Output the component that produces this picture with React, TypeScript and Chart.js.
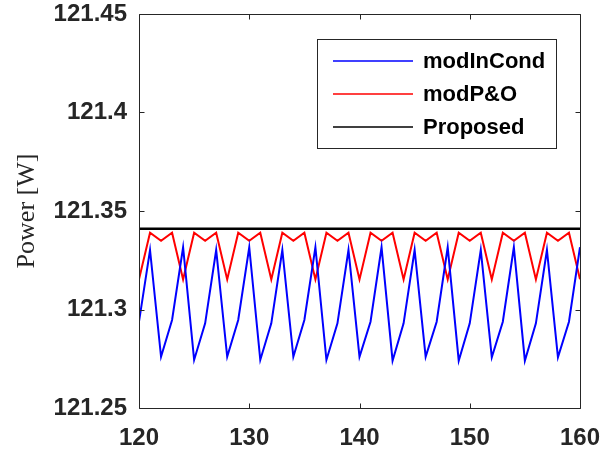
import React, { useEffect, useRef } from 'react';
import { Chart, registerables } from 'chart.js';

Chart.register(...registerables);

// ---- data ----
const timeX = [
  120, 121, 122, 123, 124, 125, 126, 127, 128, 129,
  130, 131, 132, 133, 134, 135, 136, 137, 138, 139,
  140, 141, 142, 143, 144, 145, 146, 147, 148, 149,
  150, 151, 152, 153, 154, 155, 156, 157, 158, 159,
  160,
];

const modInCond = [
  121.2938, 121.3302, 121.2760, 121.2947, 121.3316, 121.2744, 121.2930, 121.3302, 121.2760, 121.2947,
  121.3316, 121.2744, 121.2930, 121.3302, 121.2760, 121.2947, 121.3316, 121.2744, 121.2930, 121.3302,
  121.2760, 121.2938, 121.3316, 121.2740, 121.2930, 121.3302, 121.2760, 121.2938, 121.3316, 121.2740,
  121.2930, 121.3302, 121.2757, 121.2938, 121.3316, 121.2740, 121.2930, 121.3302, 121.2757, 121.2938,
  121.3316,
];

const modPO = [
  121.3153, 121.3390, 121.3349, 121.3390, 121.3153, 121.3390, 121.3349, 121.3390, 121.3153, 121.3390,
  121.3349, 121.3390, 121.3153, 121.3390, 121.3349, 121.3390, 121.3153, 121.3390, 121.3349, 121.3390,
  121.3153, 121.3390, 121.3349, 121.3390, 121.3153, 121.3390, 121.3349, 121.3390, 121.3153, 121.3390,
  121.3349, 121.3390, 121.3153, 121.3390, 121.3349, 121.3390, 121.3153, 121.3390, 121.3349, 121.3390,
  121.3153,
];

const proposedX = [120, 160];
const proposed = [121.341, 121.341];

const seriesLabels = ['modInCond', 'modP&O', 'Proposed'];
const seriesColors = ['#0000FF', '#FF0000', '#000000'];

const xTicks = [120, 130, 140, 150, 160];
const xTickLabels = ['120', '130', '140', '150', '160'];
const yTicks = [121.25, 121.3, 121.35, 121.4, 121.45];
const yTickLabels = ['121.25', '121.3', '121.35', '121.4', '121.45'];
const yTitle = 'Power [W]';

const AXIS_COLOR = '#262626';
const TICK_FONT = { family: 'Liberation Sans', size: 24, weight: 'bold' as const };

const boxPlugin = {
  id: 'matlabBox',
  afterDatasetsDraw(chart: any) {
    const { ctx, chartArea: a, scales } = chart;
    ctx.save();
    ctx.strokeStyle = AXIS_COLOR;
    ctx.lineWidth = 1;
    const L = Math.round(a.left) + 0.5;
    const R = Math.round(a.right) + 0.5;
    const T = Math.round(a.top) + 0.5;
    const B = Math.round(a.bottom) + 0.5;
    ctx.beginPath();
    ctx.rect(L, T, R - L, B - T);
    const tl = 5;
    xTicks.forEach((v) => {
      const px = Math.round(scales.x.getPixelForValue(v)) + 0.5;
      ctx.moveTo(px, B);
      ctx.lineTo(px, B - tl);
      ctx.moveTo(px, T);
      ctx.lineTo(px, T + tl);
    });
    yTicks.forEach((v) => {
      const py = Math.round(scales.y.getPixelForValue(v)) + 0.5;
      ctx.moveTo(L, py);
      ctx.lineTo(L + tl, py);
      ctx.moveTo(R, py);
      ctx.lineTo(R - tl, py);
    });
    ctx.stroke();
    ctx.restore();
  },
  afterDraw(chart: any) {
    const { ctx } = chart;
    const bx = 317.5, by = 39.5, bw = 239, bh = 109;
    ctx.save();
    ctx.fillStyle = '#FFFFFF';
    ctx.fillRect(bx, by, bw, bh);
    ctx.strokeStyle = AXIS_COLOR;
    ctx.lineWidth = 1;
    ctx.strokeRect(bx, by, bw, bh);
    const rows = [61, 94, 127];
    chart.data.datasets.forEach((ds: any, i: number) => {
      const y = rows[i];
      ctx.strokeStyle = ds.borderColor;
      ctx.lineWidth = 1.5;
      ctx.beginPath();
      ctx.moveTo(333, y);
      ctx.lineTo(413, y);
      ctx.stroke();
      ctx.fillStyle = '#000000';
      ctx.font = 'bold 22px "Liberation Sans"';
      ctx.textBaseline = 'middle';
      ctx.textAlign = 'left';
      ctx.fillText(ds.label, 423, y + 1);
    });
    ctx.restore();
  },
};

export default function App() {
  const ref = useRef<HTMLCanvasElement | null>(null);

  useEffect(() => {
    document.body.style.margin = '0';
    const canvas = ref.current;
    if (!canvas) return;
    const chart = new Chart(canvas, {
      type: 'line',
      data: {
        datasets: [
          {
            label: seriesLabels[0],
            data: timeX.map((x, i) => ({ x, y: modInCond[i] })),
            borderColor: seriesColors[0],
            borderWidth: 2,
            pointRadius: 0,
            tension: 0,
          },
          {
            label: seriesLabels[1],
            data: timeX.map((x, i) => ({ x, y: modPO[i] })),
            borderColor: seriesColors[1],
            borderWidth: 2,
            pointRadius: 0,
            tension: 0,
          },
          {
            label: seriesLabels[2],
            data: proposedX.map((x, i) => ({ x, y: proposed[i] })),
            borderColor: seriesColors[2],
            borderWidth: 2.5,
            pointRadius: 0,
            tension: 0,
          },
        ],
      },
      options: {
        animation: false,
        responsive: false,
        maintainAspectRatio: false,
        layout: { padding: { left: 0, top: 14, right: 32, bottom: 0 } },
        plugins: {
          legend: { display: false },
          tooltip: { enabled: false },
        },
        scales: {
          x: {
            type: 'linear',
            min: 120,
            max: 160,
            grid: { display: false, drawTicks: false },
            border: { display: false },
            afterBuildTicks: (s: any) => {
              s.ticks = xTicks.map((v) => ({ value: v }));
            },
            afterFit: (s: any) => {
              s.height = 45;
              s.paddingLeft = 0;
              s.paddingRight = 0;
              s.paddingTop = 0;
              s.paddingBottom = 0;
            },
            ticks: {
              color: AXIS_COLOR,
              font: TICK_FONT,
              padding: 16,
              maxRotation: 0,
              autoSkip: false,
              callback: (_v: any, i: number) => xTickLabels[i],
            },
          },
          y: {
            type: 'linear',
            min: 121.25,
            max: 121.45,
            grid: { display: false, drawTicks: false },
            border: { display: false },
            afterBuildTicks: (s: any) => {
              s.ticks = yTicks.map((v) => ({ value: v }));
            },
            afterFit: (s: any) => {
              s.width = 139;
              s.paddingLeft = 0;
              s.paddingRight = 0;
              s.paddingTop = 0;
              s.paddingBottom = 0;
            },
            ticks: {
              color: AXIS_COLOR,
              font: TICK_FONT,
              padding: 12,
              autoSkip: false,
              callback: (_v: any, i: number) => yTickLabels[i],
            },
            title: {
              display: true,
              text: yTitle,
              color: AXIS_COLOR,
              font: { family: 'Liberation Serif', size: 26, weight: 'normal' },
              padding: { top: 12, bottom: 0 },
            },
          },
        },
      },
      plugins: [boxPlugin],
    });
    return () => chart.destroy();
  }, []);

  return (
    <div style={{ width: 612, height: 453, position: 'relative' }}>
      <canvas ref={ref} width={612} height={453} style={{ display: 'block' }} />
    </div>
  );
}
